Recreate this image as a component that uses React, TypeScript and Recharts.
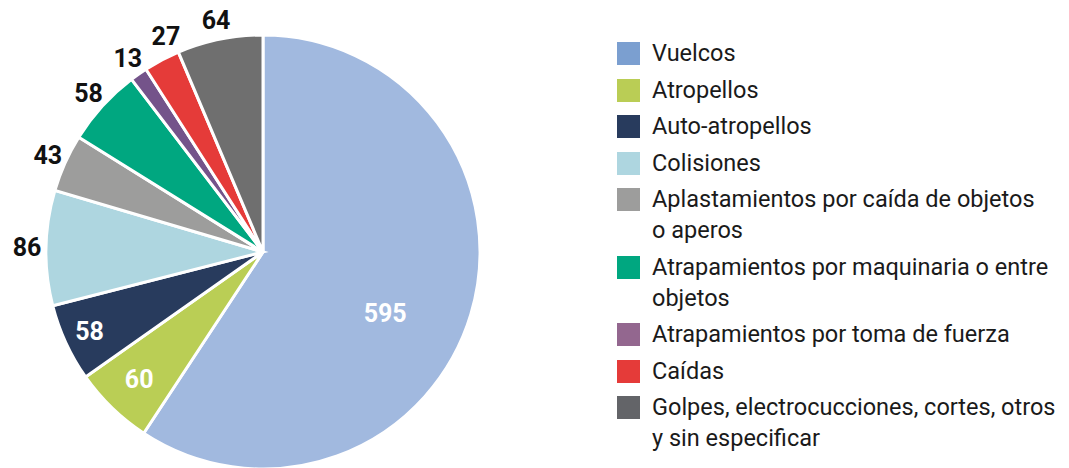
import React from "react";
import { PieChart, Pie, Cell } from "recharts";

const categories = [
  "Vuelcos",
  "Atropellos",
  "Auto-atropellos",
  "Colisiones",
  "Aplastamientos por caída de objetos\no aperos",
  "Atrapamientos por maquinaria o entre\nobjetos",
  "Atrapamientos por toma de fuerza",
  "Caídas",
  "Golpes, electrocucciones, cortes, otros\ny sin especificar",
];
const values = [595, 60, 58, 86, 43, 58, 13, 27, 64];
const sliceColors = [
  "#A1B9DF",
  "#BACE55",
  "#283B5D",
  "#AED6E0",
  "#9D9D9C",
  "#00A780",
  "#74538A",
  "#E53B39",
  "#6F6F6F",
];
const legendColors = [
  "#7B9FD0",
  "#BACD55",
  "#283B5D",
  "#AED6E0",
  "#9D9D9C",
  "#00A780",
  "#93678F",
  "#E53B39",
  "#636468",
];

const data = categories.map((name, i) => ({ name, value: values[i] }));

const FONT = "Roboto, 'DejaVu Sans', sans-serif";
const RAD = Math.PI / 180;

const renderLabel = (props: any) => {
  const { cx, cy, midAngle, outerRadius, value, index } = props;
  let r = outerRadius + 19;
  let angle = midAngle;
  let fill = "#111";
  if (index === 0) {
    r = outerRadius * 0.63;
    angle = midAngle - 10;
    fill = "#fff";
  } else if (index === 1) {
    r = outerRadius * 0.82;
    fill = "#fff";
  } else if (index === 2) {
    r = outerRadius * 0.88;
    fill = "#fff";
  } else if (index === 7) {
    angle = midAngle - 3.5;
  }
  const x = cx + r * Math.cos(-angle * RAD);
  const y = cy + r * Math.sin(-angle * RAD);
  return (
    <text
      x={x}
      y={y}
      fill={fill}
      textAnchor="middle"
      dominantBaseline="central"
      style={{ fontFamily: FONT, fontWeight: 700, fontSize: 25 }}
    >
      {value}
    </text>
  );
};

const LegendBox = () => (
  <div
    style={{
      position: "absolute",
      left: 617,
      top: 38,
      width: 450,
      fontFamily: FONT,
      fontSize: 23.5,
      color: "#1a1a1a",
    }}
  >
    {categories.map((c, i) => (
      <div
        key={i}
        style={{ display: "flex", alignItems: "flex-start", marginBottom: 5.5 }}
      >
        <div
          style={{
            width: 23,
            height: 23,
            marginTop: 4,
            background: legendColors[i],
            flex: "0 0 auto",
          }}
        />
        <div style={{ marginLeft: 12, lineHeight: "31px", whiteSpace: "pre-line" }}>
          {c}
        </div>
      </div>
    ))}
  </div>
);

export default function App() {
  return (
    <div style={{ position: "absolute", left: 0, top: 0, width: 1069, height: 468, background: "#fff", overflow: "hidden" }}>
      <PieChart width={1069} height={468} margin={{ top: 0, right: 0, bottom: 0, left: 0 }}>
        <Pie
          data={data}
          dataKey="value"
          nameKey="name"
          cx={263}
          cy={252}
          outerRadius={217}
          startAngle={90}
          endAngle={-270}
          stroke="#fff"
          strokeWidth={3}
          label={renderLabel}
          labelLine={false}
          isAnimationActive={false}
        >
          {data.map((d, i) => (
            <Cell key={i} fill={sliceColors[i]} />
          ))}
        </Pie>
      </PieChart>
      <LegendBox />
    </div>
  );
}
